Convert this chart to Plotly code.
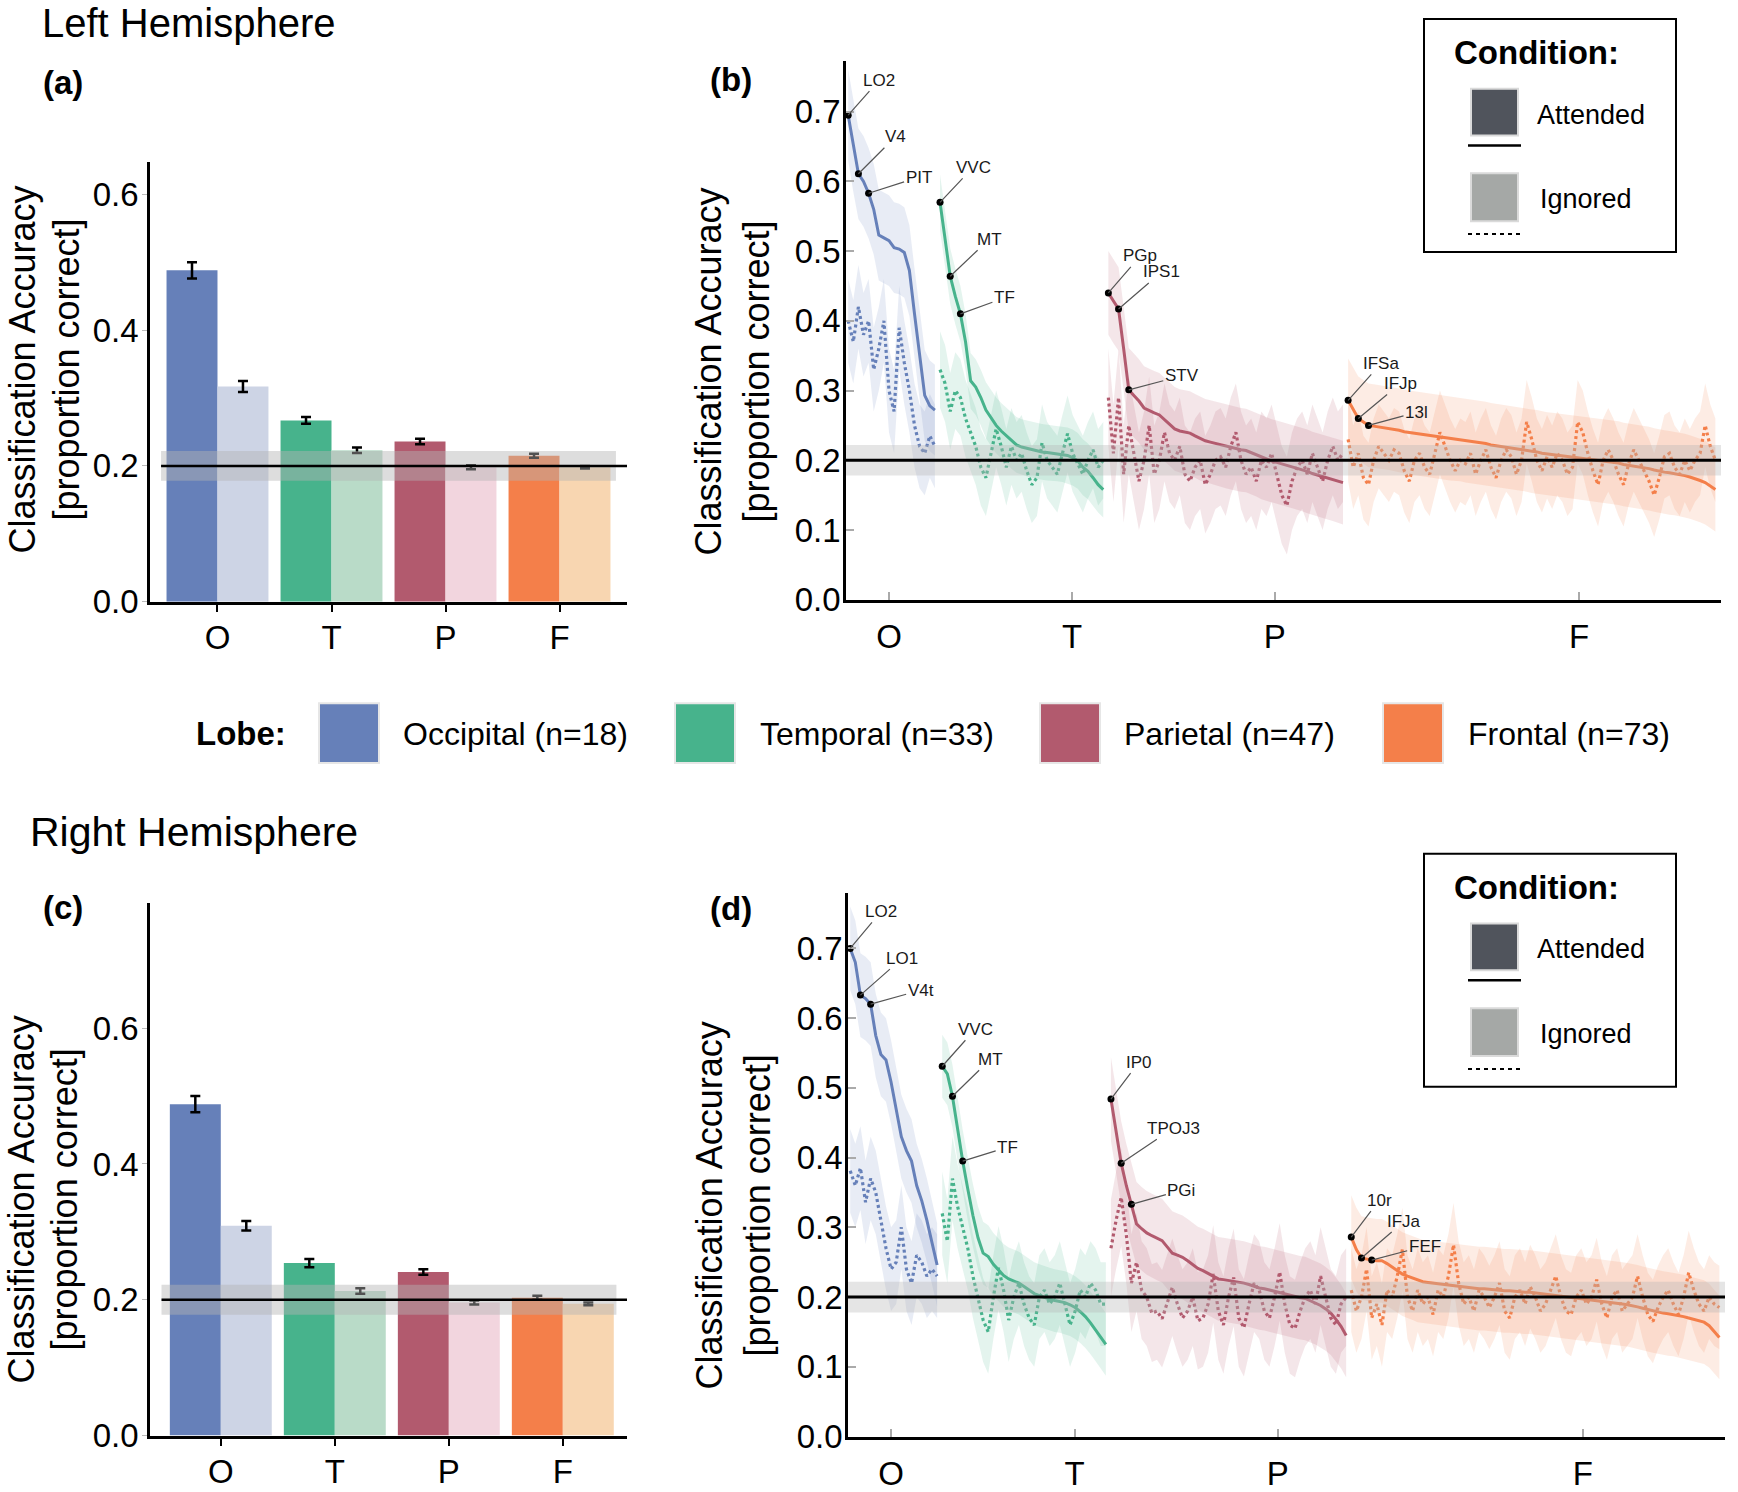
import plotly.graph_objects as go

W, H = 1738, 1492
FONT = "Liberation Sans, Arial, Helvetica, sans-serif"

# ---------------- data ----------------
LOBE_TICKS = ["O", "T", "P", "F"]
LOBE_NAMES = ["Occipital", "Temporal", "Parietal", "Frontal"]
LOBE_N = [18, 33, 47, 73]
LOBE_COLORS = ["#6680B9", "#47B38C", "#B25A6E", "#F47F4A"]
LOBE_LIGHT = ["#CDD4E5", "#B9DBC8", "#F2D5DE", "#F8D6B1"]
LOBE_RGB = [(102, 128, 185), (71, 179, 140), (178, 90, 110), (244, 127, 74)]

# bar charts (lobe averages)
BAR_ATT_L = [0.488, 0.267, 0.236, 0.215]
ERR_ATT_L = [0.012, 0.005, 0.004, 0.003]
BAR_IGN_L = [0.317, 0.223, 0.198, 0.198]
ERR_IGN_L = [0.008, 0.004, 0.003, 0.002]
BAR_ATT_R = [0.488, 0.254, 0.241, 0.203]
ERR_ATT_R = [0.012, 0.006, 0.004, 0.003]
BAR_IGN_R = [0.309, 0.213, 0.196, 0.194]
ERR_IGN_R = [0.007, 0.004, 0.003, 0.002]

# per-ROI accuracies, left hemisphere
OCC_ATT_L = [0.695, 0.650, 0.611, 0.600, 0.583, 0.560, 0.523, 0.519, 0.515, 0.505,
             0.503, 0.498, 0.472, 0.410, 0.355, 0.293, 0.278, 0.272]
OCC_IGN_L = [0.400, 0.370, 0.420, 0.380, 0.400, 0.330, 0.360, 0.400, 0.300, 0.270,
             0.390, 0.340, 0.300, 0.250, 0.220, 0.210, 0.235, 0.220]
TEM_ATT_L = [0.570, 0.518, 0.464, 0.435, 0.410, 0.370, 0.314, 0.305, 0.290, 0.272,
             0.260, 0.250, 0.242, 0.235, 0.228, 0.222, 0.219, 0.217, 0.215, 0.213,
             0.212, 0.211, 0.210, 0.210, 0.209, 0.207, 0.204, 0.199, 0.190, 0.184,
             0.175, 0.165, 0.158]
TEM_IGN_L = [0.330, 0.310, 0.270, 0.300, 0.290, 0.260, 0.240, 0.220, 0.190, 0.175,
             0.210, 0.245, 0.220, 0.190, 0.220, 0.200, 0.210, 0.185, 0.165, 0.175,
             0.225, 0.200, 0.190, 0.180, 0.210, 0.238, 0.210, 0.195, 0.180, 0.200,
             0.215, 0.190, 0.200]
PAR_ATT_L = [0.440, 0.428, 0.417, 0.360, 0.301, 0.293, 0.285, 0.275, 0.271, 0.268,
             0.265, 0.258, 0.252, 0.245, 0.242, 0.240, 0.239, 0.235, 0.231, 0.228,
             0.226, 0.224, 0.222, 0.220, 0.218, 0.216, 0.215, 0.214, 0.211, 0.208,
             0.204, 0.201, 0.199, 0.197, 0.195, 0.193, 0.191, 0.189, 0.187, 0.184,
             0.181, 0.179, 0.177, 0.175, 0.173, 0.171, 0.168]
PAR_IGN_L = [0.290, 0.210, 0.290, 0.180, 0.250, 0.210, 0.170, 0.200, 0.250, 0.180,
             0.200, 0.240, 0.210, 0.200, 0.220, 0.180, 0.170, 0.190, 0.200, 0.165,
             0.180, 0.200, 0.205, 0.190, 0.220, 0.240, 0.200, 0.180, 0.190, 0.170,
             0.200, 0.190, 0.210, 0.180, 0.150, 0.135, 0.170, 0.190, 0.200, 0.180,
             0.210, 0.190, 0.170, 0.200, 0.220, 0.200, 0.210]
FRO_ATT_L = [0.286, 0.272, 0.260, 0.255, 0.250, 0.249, 0.248, 0.247, 0.246, 0.245,
             0.243, 0.241, 0.240, 0.239, 0.237, 0.236, 0.235, 0.234, 0.233, 0.232,
             0.231, 0.230, 0.230, 0.228, 0.227, 0.226, 0.225, 0.224, 0.222, 0.221,
             0.220, 0.219, 0.218, 0.217, 0.216, 0.215, 0.213, 0.212, 0.210, 0.209,
             0.208, 0.207, 0.206, 0.205, 0.204, 0.204, 0.203, 0.202, 0.201, 0.200,
             0.199, 0.198, 0.197, 0.196, 0.194, 0.193, 0.192, 0.190, 0.189, 0.188,
             0.186, 0.184, 0.183, 0.182, 0.181, 0.180, 0.178, 0.176, 0.174, 0.171,
             0.168, 0.163, 0.158]
FRO_IGN_L = [0.230, 0.190, 0.210, 0.175, 0.165, 0.200, 0.220, 0.210, 0.200, 0.215,
             0.210, 0.185, 0.170, 0.200, 0.210, 0.190, 0.180, 0.210, 0.240, 0.220,
             0.200, 0.185, 0.200, 0.195, 0.210, 0.180, 0.200, 0.215, 0.190, 0.175,
             0.200, 0.215, 0.205, 0.180, 0.200, 0.255, 0.230, 0.200, 0.185, 0.205,
             0.190, 0.210, 0.200, 0.180, 0.190, 0.255, 0.240, 0.210, 0.185, 0.165,
             0.200, 0.215, 0.200, 0.180, 0.165, 0.195, 0.215, 0.200, 0.185, 0.170,
             0.150, 0.175, 0.205, 0.210, 0.190, 0.180, 0.200, 0.185, 0.200, 0.210,
             0.250, 0.220, 0.200]

# per-ROI accuracies, right hemisphere
OCC_ATT_R = [0.700, 0.680, 0.633, 0.628, 0.620, 0.575, 0.548, 0.540, 0.508, 0.468,
             0.430, 0.410, 0.395, 0.360, 0.338, 0.310, 0.280, 0.246]
OCC_IGN_R = [0.381, 0.360, 0.385, 0.336, 0.370, 0.350, 0.310, 0.270, 0.240, 0.250,
             0.300, 0.240, 0.220, 0.260, 0.250, 0.230, 0.240, 0.230]
TEM_ATT_R = [0.531, 0.520, 0.488, 0.440, 0.395, 0.355, 0.317, 0.285, 0.263, 0.258,
             0.247, 0.239, 0.231, 0.226, 0.223, 0.220, 0.215, 0.210, 0.205, 0.202,
             0.199, 0.197, 0.195, 0.194, 0.192, 0.189, 0.185, 0.179, 0.172, 0.163,
             0.153, 0.143, 0.132]
TEM_IGN_R = [0.320, 0.280, 0.370, 0.330, 0.300, 0.270, 0.230, 0.200, 0.167, 0.150,
             0.200, 0.242, 0.210, 0.167, 0.200, 0.220, 0.190, 0.170, 0.160, 0.200,
             0.210, 0.190, 0.200, 0.220, 0.190, 0.160, 0.180, 0.210, 0.200, 0.220,
             0.210, 0.190, 0.190]
PAR_ATT_R = [0.484, 0.440, 0.392, 0.360, 0.333, 0.305, 0.298, 0.292, 0.288, 0.284,
             0.281, 0.272, 0.263, 0.260, 0.257, 0.252, 0.246, 0.241, 0.238, 0.234,
             0.230, 0.226, 0.225, 0.224, 0.222, 0.221, 0.220, 0.218, 0.215, 0.213,
             0.212, 0.210, 0.208, 0.206, 0.205, 0.203, 0.201, 0.199, 0.198, 0.195,
             0.192, 0.188, 0.183, 0.177, 0.168, 0.158, 0.145]
PAR_IGN_R = [0.270, 0.310, 0.343, 0.290, 0.220, 0.250, 0.210, 0.200, 0.177, 0.180,
             0.169, 0.190, 0.214, 0.190, 0.170, 0.180, 0.200, 0.166, 0.170, 0.190,
             0.233, 0.180, 0.160, 0.200, 0.228, 0.170, 0.156, 0.190, 0.220, 0.210,
             0.180, 0.170, 0.200, 0.236, 0.190, 0.160, 0.155, 0.180, 0.200, 0.210,
             0.190, 0.230, 0.200, 0.170, 0.160, 0.190, 0.200]
FRO_ATT_R = [0.286, 0.268, 0.256, 0.254, 0.253, 0.252, 0.252, 0.248, 0.243, 0.238,
             0.233, 0.230, 0.227, 0.224, 0.222, 0.221, 0.220, 0.219, 0.218, 0.217,
             0.216, 0.215, 0.214, 0.213, 0.213, 0.212, 0.212, 0.211, 0.210, 0.210,
             0.209, 0.209, 0.208, 0.208, 0.207, 0.207, 0.206, 0.206, 0.205, 0.204,
             0.203, 0.202, 0.201, 0.200, 0.199, 0.198, 0.197, 0.196, 0.195, 0.194,
             0.193, 0.192, 0.191, 0.190, 0.189, 0.188, 0.186, 0.184, 0.182, 0.180,
             0.178, 0.177, 0.176, 0.175, 0.173, 0.172, 0.170, 0.168, 0.166, 0.164,
             0.159, 0.150, 0.142]
FRO_IGN_R = [0.210, 0.180, 0.200, 0.240, 0.170, 0.190, 0.160, 0.210, 0.200, 0.230,
             0.268, 0.200, 0.180, 0.210, 0.190, 0.200, 0.175, 0.210, 0.200, 0.230,
             0.275, 0.220, 0.190, 0.200, 0.180, 0.210, 0.200, 0.185, 0.200, 0.220,
             0.180, 0.170, 0.200, 0.210, 0.190, 0.215, 0.200, 0.180, 0.190, 0.210,
             0.230, 0.200, 0.180, 0.175, 0.200, 0.210, 0.190, 0.200, 0.225, 0.190,
             0.170, 0.200, 0.210, 0.180, 0.190, 0.200, 0.230, 0.200, 0.175, 0.165,
             0.185, 0.200, 0.210, 0.190, 0.175, 0.200, 0.235, 0.210, 0.190, 0.180,
             0.200, 0.190, 0.185]

# across-participant spread (band half-widths) per lobe
SPREAD_ATT_L = [0.065, 0.040, 0.060, 0.060]
SPREAD_IGN_L = [0.060, 0.055, 0.070, 0.060]
SPREAD_ATT_R = [0.060, 0.045, 0.060, 0.060]
SPREAD_IGN_R = [0.060, 0.060, 0.070, 0.060]

ROI_LABELS_L = [["LO2", "V4", "PIT"], ["VVC", "MT", "TF"], ["PGp", "IPS1", "STV"], ["IFSa", "IFJp", "13l"]]
ROI_LABELS_R = [["LO2", "LO1", "V4t"], ["VVC", "MT", "TF"], ["IP0", "TPOJ3", "PGi"], ["10r", "IFJa", "FEF"]]
ROI_LABEL_RANK = [0, 2, 4]
ROI_TICKS = [8.0, 43.9, 83.6, 143.3]

CHANCE, CHANCE_LO, CHANCE_HI = 0.2, 0.178, 0.222

# ---------------- figure ----------------
fig = go.Figure()
shapes, annos = [], []
SY = 1.0125


def px(x):
    return x / W


def py(y):
    return 1 - (y * SY) / H


BW = 0.447
OFF = BW / 2


def add_bars(xa, ya, att, att_err, ign, ign_err):
    xs = list(range(len(LOBE_TICKS)))
    fig.add_trace(go.Bar(x=[i - OFF for i in xs], y=att, width=BW,
                         marker=dict(color=LOBE_COLORS, line=dict(width=0)),
                         error_y=dict(type="data", array=att_err, color="black", thickness=2.5, width=5),
                         xaxis=xa, yaxis=ya, showlegend=False, hoverinfo="skip"))
    fig.add_trace(go.Bar(x=[i + OFF for i in xs], y=ign, width=BW,
                         marker=dict(color=LOBE_LIGHT, line=dict(width=0)),
                         error_y=dict(type="data", array=ign_err, color="black", thickness=2.5, width=5),
                         xaxis=xa, yaxis=ya, showlegend=False, hoverinfo="skip"))


LBL_OFF_L = [[(31, -35), (37, -37), (50, -16)], [(33, -35), (39, -37), (44, -16)],
             [(32, -37), (43, -37), (53, -14)], [(33, -37), (42, -35), (48, -13)]]
LBL_OFF_R = [[(31, -37), (42, -37), (50, -14)], [(33, -37), (38, -37), (45, -14)],
             [(28, -37), (52, -35), (50, -14)], [(28, -37), (43, -37), (53, -14)]]


def add_lines(xa, ya, atts, igns, sp_att, sp_ign, labels, offs):
    starts = []
    s = 0
    for k in range(4):
        starts.append(s)
        s += len(atts[k])
    # bands
    for k in range(4):
        xs = list(range(starts[k], starts[k] + len(atts[k])))
        r, g, b = LOBE_RGB[k]
        for vals, sp in ((igns[k], sp_ign[k]), (atts[k], sp_att[k])):
            up = [v + sp for v in vals]
            lo = [v - sp for v in vals]
            fig.add_trace(go.Scatter(x=xs + xs[::-1], y=up + lo[::-1], fill="toself",
                                     fillcolor=f"rgba({r},{g},{b},0.15)", line=dict(width=0),
                                     mode="lines", hoverinfo="skip", xaxis=xa, yaxis=ya, showlegend=False))
    # lines
    for k in range(4):
        xs = list(range(starts[k], starts[k] + len(atts[k])))
        fig.add_trace(go.Scatter(x=xs, y=igns[k], mode="lines",
                                 line=dict(color=LOBE_COLORS[k], width=3.2, dash="3px,3px"),
                                 xaxis=xa, yaxis=ya, showlegend=False, hoverinfo="skip"))
        fig.add_trace(go.Scatter(x=xs, y=atts[k], mode="lines",
                                 line=dict(color=LOBE_COLORS[k], width=3),
                                 xaxis=xa, yaxis=ya, showlegend=False, hoverinfo="skip"))
    # labelled ROIs
    for k in range(4):
        dx, dy = [], []
        for j, rank in enumerate(ROI_LABEL_RANK):
            x = starts[k] + rank
            y = atts[k][rank]
            dx.append(x)
            dy.append(y)
            ox, oy = offs[k][j]
            annos.append(dict(x=x, y=y, xref=xa, yref=ya, text=labels[k][j], showarrow=True,
                              arrowhead=0, arrowwidth=1.2, arrowcolor="#555", ax=ox, ay=oy,
                              font=dict(family=FONT, size=17, color="#1a1a1a")))
        fig.add_trace(go.Scatter(x=dx, y=dy, mode="markers", marker=dict(color="black", size=7),
                                 xaxis=xa, yaxis=ya, showlegend=False, hoverinfo="skip"))


add_bars("x", "y", BAR_ATT_L, ERR_ATT_L, BAR_IGN_L, ERR_IGN_L)
add_bars("x3", "y3", BAR_ATT_R, ERR_ATT_R, BAR_IGN_R, ERR_IGN_R)
add_lines("x2", "y2", [OCC_ATT_L, TEM_ATT_L, PAR_ATT_L, FRO_ATT_L],
          [OCC_IGN_L, TEM_IGN_L, PAR_IGN_L, FRO_IGN_L], SPREAD_ATT_L, SPREAD_IGN_L, ROI_LABELS_L, LBL_OFF_L)
add_lines("x4", "y4", [OCC_ATT_R, TEM_ATT_R, PAR_ATT_R, FRO_ATT_R],
          [OCC_IGN_R, TEM_IGN_R, PAR_IGN_R, FRO_IGN_R], SPREAD_ATT_R, SPREAD_IGN_R, ROI_LABELS_R, LBL_OFF_R)

# chance band + line
BAND_FILL = "rgba(180,180,180,0.45)"
for xa, ya, bx0, bx1 in (("x", "y", -0.495, 3.495), ("x3", "y3", -0.52, 3.47)):
    shapes.append(dict(type="rect", xref=xa, yref=ya, x0=bx0, x1=bx1, y0=CHANCE_LO, y1=CHANCE_HI,
                       fillcolor=BAND_FILL, line=dict(width=0), layer="above"))
    shapes.append(dict(type="line", xref=xa, yref=ya, x0=bx0, x1=bx1 + 0.1, y0=CHANCE, y1=CHANCE,
                       line=dict(color="black", width=2.5), layer="above"))
for xa, ya in (("x2", "y2"), ("x4", "y4")):
    shapes.append(dict(type="rect", xref=xa + " domain", yref=ya, x0=0, x1=1, y0=CHANCE_LO, y1=CHANCE_HI,
                       fillcolor="rgba(180,180,180,0.35)", line=dict(width=0), layer="above"))
    shapes.append(dict(type="line", xref=xa + " domain", yref=ya, x0=0, x1=1, y0=CHANCE, y1=CHANCE,
                       line=dict(color="black", width=3), layer="above"))

# ---------------- axes ----------------
TICKFONT = dict(family=FONT, size=33, color="black")


def bar_axes(xdom, ydom, xr, ytop, anchor_x, anchor_y):
    xa = dict(domain=xdom, range=xr, tickvals=[0, 1, 2, 3], ticktext=LOBE_TICKS, ticks="outside",
              ticklen=8, tickwidth=2, tickcolor="black", showline=True, linecolor="black", linewidth=2.5,
              showgrid=False, zeroline=False, tickfont=TICKFONT, anchor=anchor_y, ticklabelstandoff=-3,
              fixedrange=True)
    yv = [0, 0.2, 0.4, 0.6]
    ya = dict(domain=ydom, range=[0, ytop], tickvals=yv, ticktext=[f"{v:.1f}" for v in yv],
              ticks="outside", ticklen=5, tickwidth=1, tickcolor="#bbb", showline=True, linecolor="black",
              linewidth=2.5, showgrid=False, zeroline=False, tickfont=TICKFONT, anchor=anchor_x,
              ticklabelstandoff=-3, fixedrange=True)
    return xa, ya


def roi_axes(xdom, ydom, ytop, anchor_x, anchor_y):
    xa = dict(domain=xdom, range=[-0.43, 171.1], tickvals=ROI_TICKS, ticktext=LOBE_TICKS, ticks="inside",
              ticklen=8, tickwidth=1.5, tickcolor="#aaa", showline=True, linecolor="black", linewidth=2.5,
              showgrid=False, zeroline=False, tickfont=TICKFONT, anchor=anchor_y, ticklabelstandoff=6,
              fixedrange=True)
    yv = [0, 0.1, 0.2, 0.3, 0.4, 0.5, 0.6, 0.7]
    ya = dict(domain=ydom, range=[0, ytop], tickvals=yv, ticktext=[f"{v:.1f}" for v in yv],
              ticks="inside", ticklen=8, tickwidth=1.5, tickcolor="#aaa", showline=True, linecolor="black",
              linewidth=2.5, showgrid=False, zeroline=False, tickfont=TICKFONT, anchor=anchor_x,
              ticklabelstandoff=-4, fixedrange=True)
    return xa, ya


xa1, ya1 = bar_axes([px(150), px(627)], [py(604), py(163)], [-0.592, 3.592], 0.647, "x", "y")
xa3, ya3 = bar_axes([px(150), px(627)], [py(1441), py(906)], [-0.621, 3.563], 0.785, "x3", "y3")
xa2, ya2 = roi_axes([px(846), px(1721)], [py(602), py(61)], 0.773, "x2", "y2")
xa4, ya4 = roi_axes([px(848), px(1725)], [py(1442), py(896)], 0.78, "x4", "y4")

# ---------------- text ----------------
def text(x, y, s, size, bold=False, xanchor="left", yanchor="middle", angle=0):
    annos.append(dict(x=px(x), y=py(y), xref="paper", yref="paper", showarrow=False,
                      text=f"<b>{s}</b>" if bold else s, xanchor=xanchor, yanchor=yanchor,
                      textangle=angle, font=dict(family=FONT, size=size, color="black")))


text(40, 23, "Left Hemisphere", 40)
text(28, 835, "Right Hemisphere", 41)
text(41, 83, "(a)", 33, bold=True)
text(708, 80, "(b)", 33, bold=True)
text(41, 911, "(c)", 33, bold=True)
text(708, 912, "(d)", 33, bold=True)

for (x1, x2, yc) in ((23, 67, 371), (709, 757, 373), (21, 64, 1204), (709, 757, 1210)):
    text(x1, yc, "Classification Accuracy", 36, xanchor="center", angle=-90)
    text(x2, yc, "[proportion correct]", 36, xanchor="center", angle=-90)

# condition legends
for dy in (0, 838):
    shapes.append(dict(type="rect", xref="paper", yref="paper", x0=px(1424), x1=px(1676),
                       y0=py(253 + dy), y1=py(19 + dy), fillcolor="white",
                       line=dict(color="black", width=2), layer="above"))
    text(1452, 53 + dy, "Condition:", 33, bold=True)
    shapes.append(dict(type="rect", xref="paper", yref="paper", x0=px(1471), x1=px(1518),
                       y0=py(136 + dy), y1=py(89 + dy), fillcolor="#50545C",
                       line=dict(color="#DADADA", width=2), layer="above"))
    shapes.append(dict(type="line", xref="paper", yref="paper", x0=px(1468), x1=px(1521),
                       y0=py(146 + dy), y1=py(146 + dy), line=dict(color="black", width=2.5), layer="above"))
    text(1535, 115 + dy, "Attended", 27)
    shapes.append(dict(type="rect", xref="paper", yref="paper", x0=px(1471), x1=px(1518),
                       y0=py(222 + dy), y1=py(174 + dy), fillcolor="#A5A8A6",
                       line=dict(color="#DADADA", width=2), layer="above"))
    shapes.append(dict(type="line", xref="paper", yref="paper", x0=px(1468), x1=px(1521),
                       y0=py(235 + dy), y1=py(235 + dy), line=dict(color="black", width=2, dash="4px,4px"),
                       layer="above"))
    text(1538, 200 + dy, "Ignored", 27)

# lobe legend
text(194, 736, "Lobe:", 33, bold=True)
LEG_SW_X = [319, 675, 1040, 1383]
LEG_TX_X = [401, 758, 1122, 1466]
for k in range(4):
    shapes.append(dict(type="rect", xref="paper", yref="paper", x0=px(LEG_SW_X[k]), x1=px(LEG_SW_X[k] + 60),
                       y0=py(766), y1=py(706), fillcolor=LOBE_COLORS[k],
                       line=dict(color="#E6E6E6", width=2), layer="above"))
    text(LEG_TX_X[k], 737, f"{LOBE_NAMES[k]} (n={LOBE_N[k]})", 32)

fig.update_layout(
    width=W, height=H, margin=dict(l=0, r=0, t=0, b=0),
    paper_bgcolor="white", plot_bgcolor="white", barmode="overlay",
    font=dict(family=FONT), showlegend=False,
    xaxis=xa1, yaxis=ya1, xaxis2=xa2, yaxis2=ya2, xaxis3=xa3, yaxis3=ya3, xaxis4=xa4, yaxis4=ya4,
    shapes=shapes, annotations=annos,
)

fig.write_html("out.html", include_plotlyjs=True, config={"displayModeBar": False},
               post_script="document.body.style.margin='0';")
